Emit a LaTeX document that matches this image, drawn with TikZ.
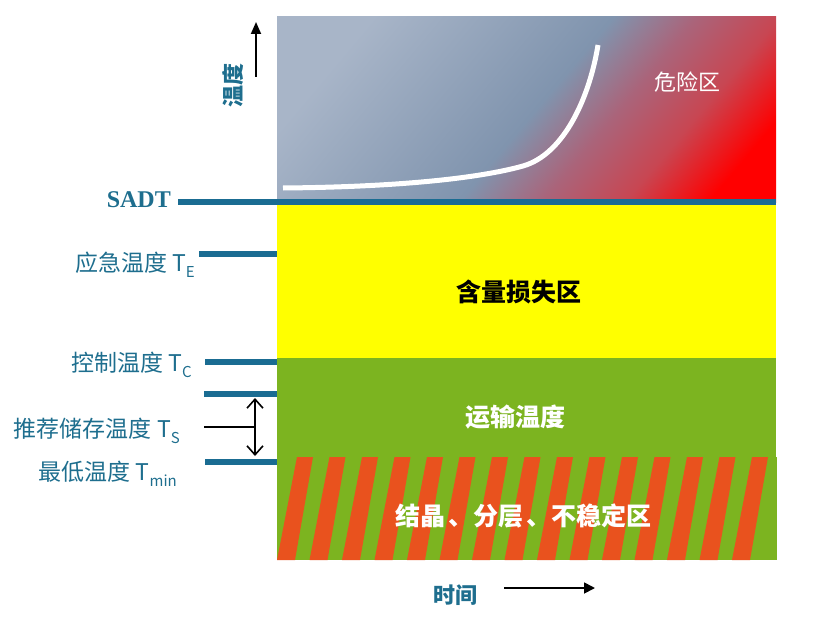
\documentclass[tikz,border=0pt]{standalone}
\usepackage{fontspec}
\newfontfamily\cjk{Noto Sans CJK SC}
\newfontfamily\sadtfont{Liberation Serif}
\usetikzlibrary{arrows.meta}
\definecolor{leveltick}{RGB}{26,108,146}
\definecolor{labelteal}{RGB}{30,110,142}
\definecolor{transgreen}{RGB}{124,180,32}
\definecolor{stripeorange}{RGB}{233,82,30}
\definecolor{lossyellow}{RGB}{255,255,0}
\definecolor{dzA}{RGB}{168,181,200}
\definecolor{dzB}{RGB}{128,148,174}
\definecolor{dzC}{RGB}{170,100,122}
\definecolor{dzD}{RGB}{200,70,82}
\definecolor{dzE}{RGB}{255,0,0}
\pgfdeclarehorizontalshading{dangerzone}{100bp}{color(0bp)=(dzA); color(25bp)=(dzA); color(51bp)=(dzB); color(60bp)=(dzC); color(69bp)=(dzD); color(78bp)=(dzE); color(100bp)=(dzE)}
\newcommand{\lowsub}[1]{\raisebox{-0.3em}{\fontsize{15}{15}\selectfont #1}}

\begin{document}
\begin{tikzpicture}[x=1pt, y=-1pt,
	tick/.style={line width=5.5pt, leveltick},
	lbl/.style={anchor=base east, inner sep=0pt, text=labelteal, font=\cjk\fontsize{23}{26}\selectfont},
	zone/.style={inner sep=0pt, text=white, font=\cjk\bfseries\fontsize{25}{28}\selectfont},
	axistext/.style={inner sep=0pt, text=labelteal, font=\cjk\bfseries\fontsize{22}{24}\selectfont}]
			%%%%% START %%%%%
			\useasboundingbox (0,0) rectangle (820,618);
			
			\shade[shading=dangerzone, shading angle=-40] (277,17) rectangle (776,202);
			\fill[lossyellow] (277,202) rectangle (776,358);
			\fill[transgreen] (277,358) rectangle (776,560);
			
			\begin{scope}
				\clip (277,457) rectangle (777,560);
				\fill[transgreen] (277,457) rectangle (777,560);
				\foreach \i in {0,...,14}
					\fill[stripeorange] ({277+32.5*\i},560) -- ++(18,0) -- ({313+32.5*\i},457) -- ({297+32.5*\i},457) -- cycle;
			\end{scope}
			
			\draw[white, line width=5pt] (283,188) .. controls (400,187) and (480,178) .. (523,166) .. controls (565,154) and (590,95) .. (598,45);
			
			\node[zone, font=\cjk\fontsize{22}{24}\selectfont] (danger) at (687,82) {危险区};
			\node[zone, text=black] (loss) at (519,292) {含量损失区};
			\node[zone] (transport) at (515,417) {运输温度};
			\node[zone] (crystal) at (523,516) {结晶\hspace{3pt}、分层\hspace{3pt}、不稳定区};
			
			% temperature levels
			\draw[tick] (178,202) -- (776,202);
			\draw[tick] (199,254) -- (277,254);
			\draw[tick] (205,362) -- (277,362);
			\draw[tick] (204,394) -- (277,394);
			\draw[tick] (205,462) -- (277,462);
			
			\node[lbl, font=\sadtfont\bfseries\fontsize{24}{26}\selectfont] (sadt) at (171,207) {SADT};
			\node[lbl] (te) at (195,271) {应急温度 T\lowsub{E}};
			\node[lbl] (tc) at (192,371) {控制温度 T\lowsub{C}};
			\node[lbl] (ts) at (180,437) {推荐储存温度 T\lowsub{S}};
			\node[lbl] (tmin) at (177,480) {最低温度 T\lowsub{min}};
			
			% storage range
			\coordinate (sup) at (255,398);
			\coordinate (slow) at (255,456);
			\coordinate (smid) at (255,427);
			\draw[line width=1.6pt, {Straight Barb[length=9pt,width=16pt]}-{Straight Barb[length=9pt,width=16pt]}] (sup) -- (slow);
			\draw[line width=1.6pt] (204,427) -- (smid);
			
			% axes
			\node[axistext, rotate=90] (temp) at (233,85) {温度};
			\draw[line width=1.8pt, -{Triangle[length=12pt,width=10pt]}] (256,77) -- (256,22);
			\node[axistext] (time) at (455,595) {时间};
			\coordinate (tstart) at (504,588);
			\coordinate (tend) at (595,588);
			\draw[line width=1.8pt, -{Triangle[length=11pt,width=11pt]}] (tstart) -- (tend);
			%%%%% END %%%%%
\end{tikzpicture}
\end{document}
